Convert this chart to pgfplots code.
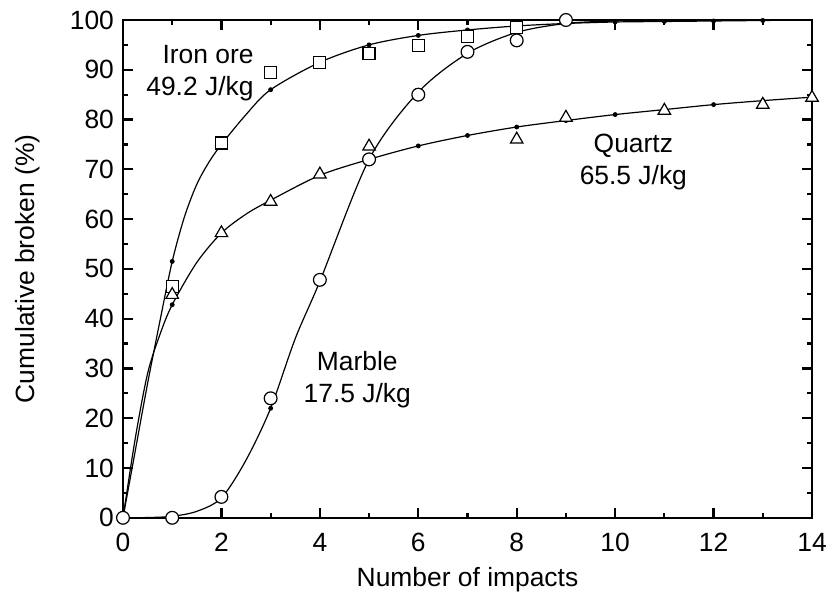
\documentclass[border=0pt]{standalone}
\usepackage{pgfplots}
\pgfplotsset{compat=1.18}
\usepackage{fontspec}
\setmainfont{Liberation Sans}

\newcommand{\lblfont}{\fontsize{13.2}{16}\selectfont}

\begin{document}
\begin{tikzpicture}
\begin{axis}[
  at={(0pt,0pt)}, anchor=south west,
  scale only axis, width=344.5pt, height=248.9pt,
  xmin=0, xmax=14, ymin=0, ymax=100,
  xtick={0,2,...,14}, minor x tick num=1,
  ytick={0,10,...,100}, minor y tick num=1,
  major tick length=5pt, minor tick length=2.5pt,
  tick align=inside,
  axis line style={line width=1.2pt},
  every tick/.style={black, line width=1.1pt},
  tick label style={font=\lblfont},
  /pgf/number format/assume math mode=true,
  xticklabel style={yshift=-4pt},
  yticklabel style={xshift=-1pt},
  xlabel={Number of impacts},
  ylabel={Cumulative broken (\%)},
  every axis x label/.style={at={(axis description cs:0.5,0)}, anchor=center, yshift=-30.7pt, font=\lblfont},
  every axis y label/.style={at={(axis description cs:0,0.5)}, xshift=-47.5pt, anchor=center, rotate=90, font=\lblfont},
  clip=false,
]
% fitted curves, dots at whole numbers of impacts
\addplot[black, line width=0.6pt, smooth, tension=0.5, mark=none] coordinates {
  (0,0) (0.25,13.5) (0.5,27) (0.75,39.5) (1,51.5) (1.25,60.5) (1.5,67) (1.75,71.5) (2,75)
  (2.5,81) (3,86) (4,91.5) (5,95) (6,96.9) (7,98) (8,98.8) (9,99.3) (10,99.6)
  (11,99.7) (12,99.8) (13,99.9) (14,100)};
\addplot[black, only marks, mark=*, mark size=1pt] coordinates {
  (1,51.5) (2,75) (3,86) (4,91.5) (5,95) (6,96.9) (7,98) (8,98.8) (9,99.3) (10,99.6)
  (11,99.7) (12,99.8) (13,99.9)};

\addplot[black, line width=0.6pt, smooth, tension=0.5, mark=none] coordinates {
  (0,0) (0.25,16) (0.5,29) (0.75,36.8) (1,42.8) (1.5,51.3) (2,57.2) (2.5,61) (3,63.8)
  (4,68.8) (5,72) (6,74.7) (7,76.8) (8,78.5) (9,79.8) (10,81) (11,82) (12,83)
  (13,83.8) (14,84.5)};
\addplot[black, only marks, mark=*, mark size=1pt] coordinates {
  (1,42.8) (2,57.2) (3,63.8) (4,68.8) (5,72) (6,74.7) (7,76.8) (8,78.5) (9,79.8)
  (10,81) (11,82) (12,83) (13,83.8)};

\addplot[black, line width=0.6pt, smooth, tension=0.5, mark=none] coordinates {
  (0,0) (0.5,0.05) (1,0.3) (1.5,1.3) (2,4) (2.5,11.6) (3,22) (3.5,36) (4,47.5) (5,72)
  (6,85.5) (7,93.3) (8,97.5) (9,99.3) (10,99.8) (11,100) (12,100) (13,100) (14,100)};
\addplot[black, only marks, mark=*, mark size=1pt] coordinates {
  (1,0.3) (2,4) (3,22) (4,47.5) (5,72) (6,85.5) (7,93.3) (8,97.5)};

% measured points
\addplot[black, only marks, mark=square*, mark size=3pt,
  mark options={fill=white, line width=0.6pt}] coordinates {
  (1,46.5) (2,75.3) (3,89.4) (4,91.4) (5,93.2) (6,94.9) (7,96.7) (8,98.5)};
\addplot[black, only marks, mark=triangle*, mark size=3.6pt,
  mark options={fill=white, line width=0.6pt}] coordinates {
  (1,44.8) (2,57.2) (3,63.5) (4,69) (5,74.6) (8,76) (9,80.4) (11,81.8) (13,83) (14,84.4)};
\addplot[black, only marks, mark=*, mark size=3.2pt,
  mark options={fill=white, line width=0.6pt}] coordinates {
  (0,0) (1,0) (2,4.2) (3,24) (4,47.8) (5,72) (6,85) (7,93.6) (8,95.9) (9,100)};

\node[align=right, anchor=east, font=\lblfont, inner sep=0pt] at (axis cs:2.66,89.3) {Iron ore\\49.2 J/kg};
\node[align=center, font=\lblfont, inner sep=0pt] at (axis cs:10.37,71.5) {Quartz\\65.5 J/kg};
\node[align=center, font=\lblfont, inner sep=0pt] at (axis cs:4.76,27.8) {Marble\\17.5 J/kg};
\end{axis}
\pgfresetboundingbox
\path[use as bounding box] (-61.5pt,-45.2pt) rectangle (353pt,258.9pt);
\end{tikzpicture}
\end{document}
